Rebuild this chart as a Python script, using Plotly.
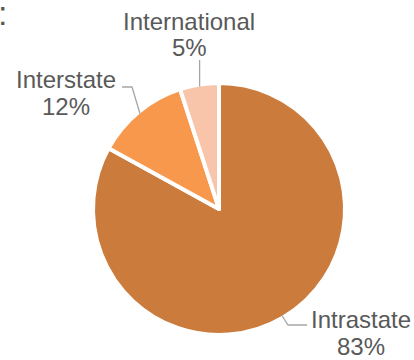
import math
import plotly.graph_objects as go

# Trip share by journey type
labels = ["Intrastate", "Interstate", "International"]
values = [83, 12, 5]
colors = ["#CB7B3B", "#F7984D", "#F8C5AA"]

W, H = 414, 360
CX, CY, R = 219, 209, 124  # pie centre and radius in pixels

def px(x):
    return x / W

def py(y):
    return 1 - y / H

fig = go.Figure(go.Pie(
    labels=labels,
    values=values,
    sort=False,
    direction="clockwise",
    rotation=0,
    marker=dict(colors=colors, line=dict(color="white", width=4)),
    textinfo="none",
    hoverinfo="label+percent",
    domain=dict(x=[px(CX - R - 2), px(CX + R + 2)], y=[py(CY + R + 2), py(CY - R - 2)]),
    showlegend=False,
))

# edge point of each slice at its mid angle (clockwise from 12 o'clock)
total = sum(values)
edge = []
acc = 0
for v in values:
    mid = (acc + v / 2) / total * 2 * math.pi
    edge.append((CX + R * math.sin(mid), CY - R * math.cos(mid)))
    acc += v

# leader lines: bend point(s) and end point for each label
leaders = [
    [(288, 325), (307, 325)],
    [(132, 87), (122, 87)],
    [(edge[2][0], 60)],
]
# label centre x, name line centre y, percent line centre y
label_pos = [(361, 319, 346), (66, 79, 106), (189, 21, 48)]

shapes = []
for (ex, ey), pts in zip(edge, leaders):
    path = f"M {px(ex)} {py(ey)}"
    for (x, y) in pts:
        path += f" L {px(x)} {py(y)}"
    shapes.append(dict(type="path", path=path, xref="paper", yref="paper",
                       line=dict(color="#A6A6A6", width=1.3)))

font = dict(family="Liberation Sans, Arial, sans-serif", size=24, color="#595959")
annotations = []
for lab, v, (x, y1, y2) in zip(labels, values, label_pos):
    pct = round(v / total * 100)
    for txt, y in ((lab, y1), (f"{pct}%", y2)):
        annotations.append(dict(
            text=txt, x=px(x), y=py(y), xref="paper", yref="paper",
            xanchor="center", yanchor="middle", showarrow=False,
            font=font,
        ))

# trailing colon of the title, clipped at the left edge
annotations.append(dict(
    text=":", x=px(-4), y=py(13), xref="paper", yref="paper",
    xanchor="left", yanchor="middle", showarrow=False,
    font=dict(family="Liberation Sans, Arial, sans-serif", size=34, color="#595959"),
))

fig.update_layout(
    width=W, height=H,
    margin=dict(l=0, r=0, t=0, b=0),
    paper_bgcolor="white",
    plot_bgcolor="white",
    shapes=shapes,
    annotations=annotations,
)

fig.write_html("out.html")
